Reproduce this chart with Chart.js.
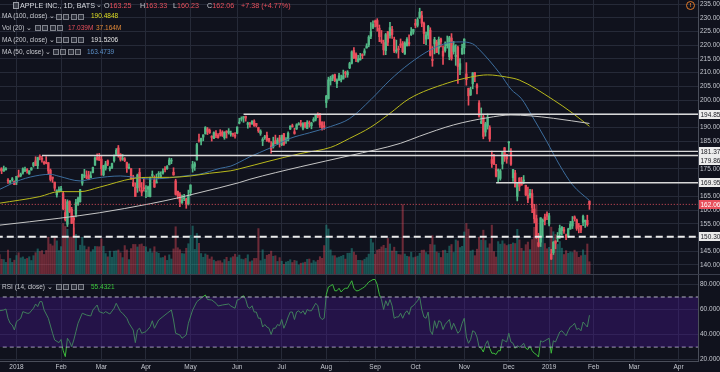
<!DOCTYPE html>
<html><head><meta charset="utf-8">
<script src="https://cdn.jsdelivr.net/npm/chart.js@4.4.1/dist/chart.umd.min.js"></script>
<style>
html,body{margin:0;padding:0;background:#10121d;}
#wrap{position:relative;width:720px;height:372px;overflow:hidden;background:#10121d;font-family:"Liberation Sans",Arial,sans-serif;}
canvas{position:absolute;left:0;}
#c1{top:0}
#c2{top:275px}
#sep{position:absolute;left:0;top:274px;width:720px;height:1px;background:#3a3e4c;}
.t{position:absolute;white-space:nowrap;line-height:1;color:#c8cad0;}
.ic{position:absolute;width:4px;height:4px;border:1px solid #80838c;background:#2c2f3a;}
.sq{position:absolute;width:4px;height:5px;border:1px solid #9a9da6;background:#3a3d48;}
#warn{position:absolute;left:686px;top:1px;width:7px;height:7px;border:1px solid #e07a2a;border-radius:50%;color:#e07a2a;font-size:6px;line-height:7px;text-align:center;font-weight:bold;}
</style></head>
<body><div id="wrap">
<canvas id="c1" width="720" height="274"></canvas>
<div id="sep"></div>
<canvas id="c2" width="720" height="97"></canvas>
<div id="warn">!</div>
</div>
<script>
// ---------- DATA ----------
const firstIndex = -8; // Dec 19 2017 .. Jan 30 2019 (trading-day index, 0 = Jan 2 2018)
const opens = [
175.03,174.87,174.17,174.68,170.80,170.10,171.00,170.52,
170.16,172.53,172.54,173.44,174.35,174.55,173.16,174.59,176.18,177.90,176.15,179.37,178.61,177.30,177.30,177.25,174.51,172.00,170.16,165.53,166.87,
167.16,166.00,159.10,154.83,163.09,160.29,157.07,158.50,161.95,163.04,169.79,172.36,172.05,172.83,171.80,173.67,176.35,179.10,179.26,
178.54,172.80,175.21,177.91,174.94,175.48,177.96,180.29,182.59,180.32,178.50,178.65,177.32,175.24,175.04,170.00,168.39,168.07,173.68,167.25,167.81,
166.64,167.64,164.88,172.58,170.97,169.88,173.00,172.23,173.41,174.78,175.03,176.49,177.81,173.76,170.60,166.83,165.67,162.62,164.12,164.00,162.13,
166.41,175.23,175.88,178.25,185.18,184.99,186.55,187.74,189.49,189.01,186.78,186.07,188.00,187.19,188.00,188.38,186.35,188.77,188.23,187.60,187.72,187.22,
187.99,191.64,193.07,193.63,194.14,191.17,191.35,191.39,192.42,191.55,190.03,187.88,185.14,186.35,187.25,186.12,183.40,182.99,185.23,184.10,186.29,
183.82,187.79,185.26,185.42,189.50,190.71,188.50,189.53,191.08,191.52,189.75,191.78,189.69,191.78,190.68,192.45,193.06,194.61,194.99,191.90,190.30,
199.13,200.58,207.03,208.00,209.32,206.05,207.28,207.36,207.70,210.16,209.22,211.75,213.44,218.10,216.80,214.10,214.65,216.60,217.15,219.01,220.15,223.25,226.51,
228.41,228.99,226.23,221.85,220.95,218.01,224.94,223.52,225.75,222.15,217.79,218.50,220.24,220.78,216.82,219.75,221.00,223.82,224.79,
227.95,227.25,230.05,230.78,227.96,222.21,223.64,225.46,214.52,220.42,221.16,218.93,222.30,217.86,218.06,219.79,215.83,222.60,217.71,215.90,219.19,211.15,216.88,
219.05,209.55,204.30,201.92,205.97,209.98,205.55,199.00,191.63,193.90,188.39,190.50,190.00,178.37,179.73,174.94,174.24,171.51,176.73,182.66,180.29,
184.46,180.95,171.76,173.49,165.00,171.66,170.40,170.49,169.00,165.45,165.38,166.00,160.40,156.86,148.15,148.30,155.84,157.50,158.53,
154.89,143.98,144.53,148.70,149.56,151.29,152.50,152.88,150.85,150.27,153.08,154.20,157.50,156.41,154.15,154.11,155.48,155.79,156.25,163.25];
const highs = [
175.39,175.42,176.02,175.42,171.47,170.78,171.85,170.59,
172.30,174.55,173.47,175.37,175.61,175.06,174.30,175.49,177.36,179.39,179.25,180.10,179.58,177.78,179.44,177.30,174.95,172.00,170.16,167.37,168.44,
168.62,166.80,163.88,163.72,163.40,161.00,157.89,163.89,164.75,167.54,173.09,174.82,174.26,174.12,173.95,175.65,179.39,180.48,180.62,
179.78,176.30,177.74,178.25,175.85,177.12,180.00,182.39,183.50,180.52,180.24,179.12,177.47,176.80,175.09,172.68,169.92,173.10,175.15,170.02,171.75,
168.94,168.75,172.01,174.23,172.48,173.09,174.00,173.92,175.00,175.84,176.19,178.94,178.82,175.39,171.22,166.92,166.33,165.42,165.73,164.33,167.26,
169.20,177.75,177.50,184.25,187.67,186.22,187.40,190.37,190.06,189.53,187.07,188.46,188.91,187.81,189.27,188.88,188.50,188.84,189.65,188.75,188.00,188.23,
190.26,193.42,193.94,194.08,194.20,192.00,191.97,192.61,192.88,191.57,190.16,189.22,186.33,187.20,188.35,186.15,184.92,186.53,187.28,186.21,187.19,
187.30,187.95,186.41,188.43,190.68,191.28,189.78,191.41,191.84,192.65,191.87,191.80,192.55,192.43,191.96,193.66,194.85,195.40,195.19,192.20,192.14,
201.76,208.38,208.74,209.25,209.50,207.81,209.78,209.10,210.95,210.56,210.74,213.81,217.95,219.18,217.19,216.36,217.05,216.90,218.74,220.54,223.49,228.26,228.87,
229.18,229.67,227.35,225.37,221.85,224.30,225.00,228.35,226.84,222.95,221.85,219.62,222.28,221.36,221.26,222.82,223.75,226.44,225.84,
229.42,230.00,233.47,232.35,228.41,224.80,227.27,226.35,219.50,222.88,221.83,222.99,222.64,219.74,221.26,223.36,223.25,224.23,221.38,220.19,219.69,215.18,220.45,
222.36,213.65,204.39,204.72,210.06,210.12,206.01,199.85,197.18,194.48,191.97,194.97,190.70,181.47,180.27,176.60,174.95,174.77,181.29,182.80,180.33,
184.94,182.39,174.78,174.49,170.09,171.79,171.92,172.57,169.08,168.35,167.53,167.45,162.11,158.16,151.55,157.23,156.77,158.52,159.36,
158.85,145.72,148.55,148.83,151.82,154.53,153.97,153.70,151.27,153.39,155.88,157.66,157.88,156.73,155.14,154.48,158.13,156.33,158.13,163.33];
const lows = [
174.09,173.25,174.10,174.50,169.68,169.71,170.48,169.22,
169.26,171.96,172.08,173.05,173.93,173.41,173.00,174.49,175.65,176.14,175.07,178.25,177.41,176.60,176.82,173.20,170.53,170.06,167.07,164.70,166.50,
166.76,160.10,156.00,154.00,159.07,155.03,150.24,157.51,161.65,162.88,169.00,171.77,171.42,171.01,171.71,173.54,176.21,178.16,178.05,
172.66,172.45,174.52,176.13,174.27,175.07,177.39,180.21,179.24,177.81,178.07,177.62,173.66,174.94,171.26,168.60,164.94,166.44,166.92,165.19,166.90,
164.47,164.88,164.77,172.08,168.20,169.85,171.53,171.70,173.04,173.85,174.83,176.41,176.88,172.66,165.43,164.09,161.22,162.41,163.37,160.63,161.84,
165.27,173.80,174.44,178.17,184.75,183.67,185.22,187.65,187.45,187.86,185.10,186.00,186.36,186.13,186.91,186.78,185.76,186.21,187.65,186.87,186.78,186.14,
187.75,191.35,192.36,191.92,192.34,189.77,190.21,191.15,190.44,190.22,188.26,187.20,183.45,185.73,184.94,184.70,180.73,182.54,184.03,183.80,182.91,
183.42,183.54,184.28,185.20,189.30,190.18,187.61,189.31,190.90,190.42,189.20,189.93,189.69,190.17,189.56,192.05,192.43,193.61,190.10,189.07,189.34,
197.31,200.35,205.48,207.07,206.76,204.52,207.20,206.67,207.70,208.26,208.33,211.47,213.16,215.11,214.03,213.84,214.60,215.11,216.33,218.92,219.41,222.40,226.00,
226.63,225.10,221.30,220.71,216.47,216.56,219.84,222.57,222.52,217.27,217.12,215.30,219.15,217.29,216.63,219.70,219.76,223.54,224.02,
226.35,226.63,229.78,226.73,220.58,220.20,222.25,216.05,212.32,216.84,217.27,216.76,219.34,213.00,217.43,218.94,214.70,214.54,216.75,212.67,206.09,209.27,216.62,
216.81,205.43,198.17,201.69,204.13,206.75,202.25,193.79,191.45,185.93,186.90,189.46,184.99,175.51,176.55,172.10,170.26,170.88,174.93,177.70,177.03,
181.21,176.27,170.42,168.30,163.33,167.00,169.02,169.55,165.28,162.73,164.39,159.09,155.30,149.63,146.59,146.72,150.07,154.55,156.48,
154.23,142.00,143.80,145.90,148.52,149.63,150.86,151.51,149.22,150.05,153.00,153.26,155.98,152.62,151.70,151.74,154.32,153.66,154.11,160.23];
const closes = [
174.54,174.35,175.01,175.01,170.57,170.60,171.08,169.23,
172.26,172.23,173.03,175.00,174.35,174.33,174.29,175.28,177.09,176.19,179.10,179.26,178.46,177.00,177.04,174.22,171.11,171.51,167.96,166.97,167.43,
167.78,160.50,156.49,163.03,159.54,155.15,156.41,162.71,164.34,167.37,172.99,172.43,171.85,171.07,172.50,175.50,178.97,178.39,178.12,
175.00,176.21,176.82,176.67,175.03,176.94,179.98,181.72,179.97,178.44,178.65,178.02,175.30,175.24,171.27,168.85,164.94,172.77,168.34,166.48,167.78,
166.68,168.39,171.61,172.80,168.38,170.05,173.25,172.44,174.14,174.73,175.82,178.24,177.84,172.80,165.72,165.24,162.94,163.65,164.22,162.32,165.26,
169.10,176.57,176.89,183.83,185.16,186.05,187.36,190.04,188.59,188.15,186.44,188.18,186.99,186.31,187.63,187.16,188.36,188.15,188.58,187.90,187.50,186.87,
190.24,191.83,193.31,193.98,193.46,191.70,191.23,192.28,190.70,190.80,188.84,188.74,185.69,186.50,185.46,184.92,182.17,184.43,184.16,185.50,185.11,
187.18,183.92,185.40,187.97,190.58,190.35,187.88,191.03,191.33,190.91,191.45,190.40,191.88,191.44,191.61,193.00,194.82,194.21,190.98,189.91,190.29,
201.50,207.39,207.99,209.07,207.11,207.25,208.88,207.53,208.87,209.75,210.24,213.32,217.58,215.46,215.04,215.05,215.19,216.16,217.94,219.70,222.98,225.03,227.63,
228.36,226.87,223.10,221.30,218.33,223.85,221.07,226.41,223.84,217.88,218.24,218.37,220.03,217.66,220.79,222.19,220.42,224.95,225.74,
227.26,229.28,232.07,227.99,224.29,223.77,226.87,216.36,214.45,222.11,217.36,222.15,221.19,216.02,219.31,220.65,222.73,215.09,219.80,216.30,212.24,213.30,218.86,
222.22,207.48,201.59,203.77,209.95,208.49,204.47,194.17,192.23,186.80,191.41,193.53,185.86,176.98,176.78,172.29,174.62,174.24,180.94,179.55,178.58,
184.82,176.69,174.72,168.49,169.60,168.63,169.10,170.95,165.48,163.94,166.07,160.89,156.83,150.73,146.83,157.17,156.15,156.23,157.74,
157.92,142.19,148.26,147.93,150.75,153.31,153.80,152.29,150.00,153.07,154.94,155.86,156.82,153.30,153.92,152.70,157.76,156.30,154.68,162.06];
const volumes = [ // millions
27.0,20.4,20.0,16.1,33.2,21.5,16.1,19.2,
25.6,29.5,22.4,23.7,20.6,21.6,23.9,18.7,25.4,29.6,34.8,31.1,32.4,27.1,32.7,51.1,41.5,39.1,50.6,46.0,32.5,
38.0,70.0,66.0,62.0,51.6,51.6,64.0,55.0,32.7,40.0,51.0,38.9,33.9,37.5,30.4,33.8,38.2,38.0,37.8,
48.8,38.5,28.4,23.8,31.7,23.2,31.7,32.1,33.4,29.4,22.7,39.4,33.4,20.0,35.2,41.0,41.0,37.5,40.9,41.7,38.4,
37.6,30.3,35.0,29.5,37.8,30.1,28.7,22.4,22.9,25.1,18.9,26.6,20.8,34.8,65.5,36.4,33.7,28.4,28.0,35.7,42.0,
53.6,66.5,34.1,56.2,42.5,28.4,23.2,27.9,26.2,20.8,23.7,19.2,17.3,18.3,18.4,15.6,20.1,23.2,17.5,22.5,24.0,27.5,
23.4,26.3,20.7,20.0,21.6,26.7,16.9,18.3,21.6,21.6,63.0,18.5,33.6,20.6,26.0,27.2,31.7,24.6,25.3,17.4,22.7,
17.7,13.4,16.6,17.5,19.8,15.9,18.9,18.0,12.5,15.0,15.5,16.4,20.3,20.8,15.2,18.7,16.8,19.1,24.0,21.8,39.4,
67.9,62.4,33.4,25.4,25.4,22.5,23.5,24.6,25.9,20.7,28.8,28.9,35.4,30.3,26.2,19.0,18.9,18.5,20.5,22.8,27.6,48.8,43.3,
27.4,33.3,34.3,37.6,39.8,35.7,49.3,41.7,31.9,37.2,31.6,27.1,26.6,96.2,27.7,24.6,23.9,30.2,22.7,
23.6,24.8,28.7,33.0,33.2,29.7,26.9,41.0,53.1,40.3,30.6,29.2,22.9,32.6,33.1,28.8,38.7,40.9,29.9,47.3,45.9,36.7,38.4,
58.3,70.0,62.2,31.9,33.2,25.4,34.4,51.1,46.9,60.8,46.5,36.2,41.9,67.8,31.1,23.6,44.9,41.4,46.1,41.8,39.5,
40.8,41.3,43.1,42.3,62.0,47.3,35.6,31.9,40.7,44.3,33.8,47.8,64.8,95.7,37.2,58.6,53.1,42.3,35.0,
37.0,65.0,58.6,54.8,41.0,45.1,35.8,27.0,32.4,28.7,30.6,29.8,33.1,30.4,23.1,25.4,33.5,26.2,41.6,17.0];

const ma50Idx = [-8,2,11,16,20,30,37,49,55,63,72,82,86,96,101,105,110,119,129,138,148,157,167,176,185,195,203,209,215,218,228,233,238,243,250,256,262,270];
const ma50Val = [167.5,171,172.7,173,172.3,170.6,171.6,172.4,172,171.3,171.7,172.7,173,175.2,176,177.4,179.4,182.4,186.1,188.1,190.4,193.3,200.2,207.3,213.2,218.3,220.8,221.2,220.5,218.5,209.5,204,200.5,194.2,184.8,176.3,169.2,163.47];
const ma100Idx = [-8,11,20,30,39,55,63,72,82,91,101,105,119,134,148,157,167,176,185,203,214,222,231,237,253,262,270];
const ma100Val = [162.5,164.9,166.7,166.7,168.3,171.5,171.9,171.9,172.4,173.4,174.3,175,177.8,180.6,182.8,186.1,190.2,195.2,200.5,206.2,208.4,209.2,208.4,207.3,200.1,195.3,190.48];
const ma200Idx = [-8,20,39,63,77,86,105,110,134,157,181,190,206,222,233,242,253,270];
const ma200Val = [154.5,157,159,162.3,164.6,166.3,170,171.2,175.8,179.8,184.3,186.9,191,193.6,194.6,194.3,193.4,191.52];

const rsiTraceIdx = [-8,-6,-5,-4,-3,-2,-1,0,1,2,3,5,6,8,9,10,11,12,13,15,17,18,20,21,22,23,24,25,26,27,28,29,31,33,35,36,38,39,41,42,44,46,47,49,50,52,53,55,56,57,58,59,61,63,64,65,67,69,71,73,74,75,77,78,80,81,83,85,87,89,90,92,94,95,97,100,101,103,104,105];
const rsiTraceVal = [59,59.6,60.4,53,49,47.6,43.6,50.3,51.6,53,58.3,57,57,61,64.4,62.3,66.3,66.3,59.6,53,41,35.6,33.5,36,27,22.3,37,34.3,30.3,35.6,42.3,49,57,55.6,54.8,59.6,63.6,58.3,57,58.3,56.4,61,65,58.3,57,53,49,43.6,33.5,43.6,45,41,42.3,46.3,51,45,51.6,54.3,57,59.6,51.6,41,39.6,37,39.6,49,59.6,66.3,69,71.6,68,67.6,65,62.8,63.6,64.4,62.8,61,67.6,68];
const rsiDailyStart = 106;
const rsiDaily = [
70,71,68,62,61,63,58,58,53,53,46,48,46,45,40,45,45,48,47,
52,45,49,54,58,58,52,58,59,57,59,56,60,59,59,62,65,63,54,52,53,
72,78,79,80,75,75,77,74,76,77,77,80,83,77,75,75,76,77,78,80,82,83,84,
84,80,72,68,60,67,63,68,63,53,54,54,57,53,57,59,56,62,63,
65,67,70,60,54,53,58,43,40,51,45,51,50,44,48,50,52,44,49,45,41,43,49,
53,38,33,36,43,42,38,30,29,26,32,35,29,25,25,24,27,27,36,35,34,
41,34,33,29,31,30,31,33,29,28,31,27,25,24,22,35,34,35,36,
37,25,35,34,38,42,43,41,39,43,46,47,49,44,45,43,50,48,46,55.43];

const monthIdx = [0,21,40,61,82,104,125,146,169,188,211,232,251,272,291,312];
const monthLbl = ['2018','Feb','Mar','Apr','May','Jun','Jul','Aug','Sep','Oct','Nov','Dec','2019','Feb','Mar','Apr'];
const priceTicks = [140,145,150,155,160,165,170,175,180,185,190,195,200,205,210,215,220,225,230,235];
const rsiTicks = [20,40,60,80];
// drawn horizontal levels (price, first bar index)
const levelPrices = [194.85,181.37,179.86,169.95];
const levelStart = [107,120,12,226];
const dashedLevel = 150.30;
const lastPrice = 162.06;
const boxPrices = [194.85,181.37,179.86,169.95,162.06,150.30];

// ---------- STYLE ----------
const BG='#10121d', GRID='#262a38', AXIS='#4a4e5a', TICK='#c4c7cf';
const UP='#53b987', DN='#eb4d5c';
const xMin=-7.776, xMax=321.16;
Chart.defaults.font.family = "'Liberation Sans', Arial, sans-serif";

const idx = closes.map((_,k)=>firstIndex+k);
const isUp = closes.map((c,k)=>c>=opens[k]);
const candleCol = isUp.map(u=>u?UP:DN);
const volCol = isUp.map(u=>u?'rgba(38,166,154,0.45)':'rgba(235,77,92,0.42)');
const pts = (xs,ys)=>xs.map((x,k)=>({x,y:ys[k]}));
const hline = (x0,y,c,w,dash)=>({type:'line',data:[{x:x0,y},{x:xMax+2,y}],borderColor:c,borderWidth:w,borderDash:dash||[],pointRadius:0,order:0,yAxisID:'y'});
const noPad = s=>{s.paddingTop=0;s.paddingBottom=0;};

const axisBoxes = {
  id:'axisBoxes',
  afterDraw(chart){
    const ys=chart.scales.y, ctx=chart.ctx;
    const items = boxPrices.map(v=>({v,py:ys.getPixelForValue(v),red:v===lastPrice})).sort((a,b)=>a.py-b.py);
    let last=-99;
    ctx.save();
    ctx.font="6.5px 'Liberation Sans', Arial"; ctx.textBaseline='middle'; ctx.textAlign='left';
    for(const it of items){
      const py=Math.max(it.py,last+9); last=py;
      ctx.fillStyle=it.red?'#e8505c':'#ececec';
      ctx.fillRect(ys.left+1,Math.round(py-4.5),22,9);
      ctx.fillStyle=it.red?'#ffffff':'#1a1b22';
      ctx.fillText(it.v.toFixed(2),ys.left+2.5,py+0.5);
    }
    ctx.restore();
  }
};

const xScaleBase = {
  type:'linear', min:xMin, max:xMax, offset:false,
  grid:{color:GRID, drawTicks:false, offset:false},
  afterBuildTicks:s=>{s.ticks=monthIdx.map(v=>({value:v}));}
};

new Chart(document.getElementById('c1'),{
  type:'line',
  data:{datasets:[
    {type:'bar',data:pts(idx,volumes),backgroundColor:volCol,barThickness:1.4,grouped:false,yAxisID:'yv',order:10},
    {type:'bar',data:idx.map((x,k)=>({x,y:[lows[k],highs[k]]})),backgroundColor:candleCol,barThickness:1,grouped:false,yAxisID:'y',order:4},
    {type:'bar',data:idx.map((x,k)=>({x,y:[opens[k],closes[k]]})),backgroundColor:candleCol,barThickness:1.7,minBarLength:1,grouped:false,yAxisID:'y',order:3},
    {type:'line',data:pts(ma200Idx,ma200Val),borderColor:'#c6c6c6',borderWidth:1,pointRadius:0,cubicInterpolationMode:'monotone',yAxisID:'y',order:2},
    {type:'line',data:pts(ma100Idx,ma100Val),borderColor:'#b9b91c',borderWidth:1,pointRadius:0,cubicInterpolationMode:'monotone',yAxisID:'y',order:2},
    {type:'line',data:pts(ma50Idx,ma50Val),borderColor:'#3d6e9e',borderWidth:1,pointRadius:0,cubicInterpolationMode:'monotone',yAxisID:'y',order:2},
    ...levelPrices.map((p,k)=>hline(levelStart[k],p,'#d8d8d8',1.4)),
    hline(xMin-2,dashedLevel,'#ebebeb',2,[7,4]),
    hline(xMin-2,lastPrice,'#e0505e',1,[1,2]),
  ]},
  options:{
    responsive:false,animation:false,devicePixelRatio:1,events:[],
    layout:{padding:0},
    plugins:{legend:{display:false},tooltip:{enabled:false}},
    scales:{
      x:Object.assign({},xScaleBase,{border:{display:false},ticks:{display:false},afterFit:s=>{s.height=0;s.paddingLeft=0;s.paddingRight=0;}}),
      y:{position:'right',min:136.72,max:236.46,bounds:'data',
         grid:{color:GRID,drawTicks:false},border:{display:true,color:AXIS},
         ticks:{color:TICK,font:{size:6.5,lineHeight:1},padding:2,callback:v=>Number(v).toFixed(2)},
         afterBuildTicks:s=>{s.ticks=priceTicks.map(v=>({value:v}));},
         afterFit:s=>{s.width=22;noPad(s);}},
      yv:{display:false,min:0,max:380}
    }
  },
  plugins:[axisBoxes]
});

const rsiIdxAll = rsiTraceIdx.concat(rsiDaily.map((_,k)=>rsiDailyStart+k));
const rsiValAll = rsiTraceVal.concat(rsiDaily);

new Chart(document.getElementById('c2'),{
  type:'line',
  data:{datasets:[
    {data:[{x:xMin-2,y:70},{x:xMax+2,y:70}],borderColor:'#b4b4c4',borderWidth:1,borderDash:[4,3],pointRadius:0,fill:'+1',backgroundColor:'rgba(72,22,150,0.36)'},
    {data:[{x:xMin-2,y:30},{x:xMax+2,y:30}],borderColor:'#b4b4c4',borderWidth:1,borderDash:[4,3],pointRadius:0,fill:false},
    {data:pts(rsiIdxAll,rsiValAll),borderColor:'#3cb83c',borderWidth:1,pointRadius:0,tension:0,fill:false},
  ]},
  options:{
    responsive:false,animation:false,devicePixelRatio:1,events:[],
    layout:{padding:0},
    plugins:{legend:{display:false},tooltip:{enabled:false}},
    scales:{
      x:Object.assign({},xScaleBase,{
        border:{display:true,color:AXIS},
        ticks:{color:TICK,font:{size:6.5,lineHeight:1},padding:3,autoSkip:false,maxRotation:0,callback:(v,i)=>monthLbl[i]},
        afterFit:s=>{s.height=11;s.paddingLeft=0;s.paddingRight=0;}}),
      y:{position:'right',min:18.8,max:87.6,bounds:'data',
         grid:{color:GRID,drawTicks:false},border:{display:true,color:AXIS},
         ticks:{color:TICK,font:{size:6.5,lineHeight:1},padding:2,callback:v=>Number(v).toFixed(4)},
         afterBuildTicks:s=>{s.ticks=rsiTicks.map(v=>({value:v}));},
         afterFit:s=>{s.width=22;noPad(s);}}
    }
  }
});

// ---------- LEGEND (HTML text) ----------
const wrap=document.getElementById('wrap');
function put(x,y,html,color,size){
  const s=document.createElement('span'); s.className='t'; s.innerHTML=html;
  s.style.left=x+'px'; s.style.top=(y-size/2)+'px'; s.style.color=color; s.style.fontSize=size+'px';
  wrap.appendChild(s); return s;
}
function icons(x,y){ for(let k=0;k<4;k++){ const d=document.createElement('div'); d.className='ic'; d.style.left=(x+k*7.4)+'px'; d.style.top=(y-3)+'px'; wrap.appendChild(d);} }
const R='#e8505c', LT='#c8cad0';
const sq=document.createElement('div'); sq.className='sq'; sq.style.left='13px'; sq.style.top='1.5px'; wrap.appendChild(sq);
put(20,5.5,'APPLE INC., 1D, BATS','#d8dae0',7.2);
put(96,4.5,'⌄',LT,7);
put(104,5.5,'O<span style="color:'+R+'">163.25</span>',LT,7.2);
put(140,5.5,'H<span style="color:'+R+'">163.33</span>',LT,7.2);
put(173,5.5,'L<span style="color:'+R+'">160.23</span>',LT,7.2);
put(207,5.5,'C<span style="color:'+R+'">162.06</span>',LT,7.2);
put(241,5.5,'<span style="color:'+R+'">+7.38 (+4.77%)</span>',LT,7.2);

put(2,16.5,'MA (100, close) ⌄',LT,6.5); icons(56,16.5); put(91,16.5,'190.4848','#dede22',6.5);
put(2,28,'Vol (20) ⌄',LT,6.5); icons(35,28); put(68,28,'17.039M',R,6.5); put(96,28,'37.164M','#e48a38',6.5);
put(2,40,'MA (200, close) ⌄',LT,6.5); icons(56,40); put(91,40,'191.5206','#e6e6e6',6.5);
put(2,52,'MA (50, close) ⌄',LT,6.5); icons(53,52); put(87,52,'163.4739','#5b8fc7',6.5);
put(2,287,'RSI (14, close) ⌄',LT,6.5); icons(56,287); put(91,287,'55.4321','#3cc83c',6.5);
</script>
</body></html>
